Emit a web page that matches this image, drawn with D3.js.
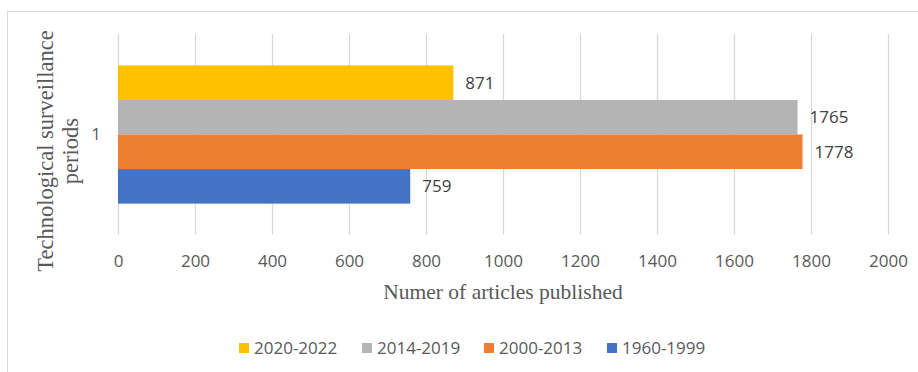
<!DOCTYPE html>
<html>
<head>
<meta charset="utf-8">
<script src="https://cdn.jsdelivr.net/npm/d3@7"></script>
<style>
  html, body { margin: 0; padding: 0; background: #fff; }
  svg { display: block; }
</style>
</head>
<body>
<svg id="chart" width="918" height="372"></svg>
<script>
// Articles published per technological surveillance period
const categories = ["1"];
const seriesNames = ["2020-2022", "2014-2019", "2000-2013", "1960-1999"];
const seriesValues = [871, 1765, 1778, 759];
const seriesColors = ["#FFC000", "#B4B4B4", "#ED7D31", "#4472C4"];
const xTicks = [0, 200, 400, 600, 800, 1000, 1200, 1400, 1600, 1800, 2000];

const svg = d3.select("#chart");
const W = 918, H = 372;
const plot = { left: 118, right: 888, top: 34, bottom: 235 };
const labelFont = "'Open Sans', 'Liberation Sans', sans-serif";
const titleFont = "'Liberation Serif', 'Times New Roman', serif";
const textColor = "#595959";

// outer chart frame
svg.append("rect")
  .attr("x", 7.5).attr("y", 11.5)
  .attr("width", W + 10).attr("height", H + 10)
  .attr("fill", "none").attr("stroke", "#d9d9d9").attr("stroke-width", 1);

const x = d3.scaleLinear().domain([0, 2000]).range([plot.left, plot.right]);

const yCat = d3.scaleBand().domain(categories)
  .range([plot.top, plot.bottom])
  .paddingInner(0).paddingOuter(0.227);

const ySer = d3.scaleBand().domain(seriesNames)
  .range([0, yCat.bandwidth()]).padding(0);

// vertical gridlines
const grid = d3.axisBottom(x).tickValues(xTicks)
  .tickSize(-(plot.bottom - plot.top)).tickFormat("");
svg.append("g")
  .attr("transform", `translate(0,${plot.bottom})`)
  .call(grid)
  .call(g => g.select(".domain").remove())
  .call(g => g.selectAll(".tick line").attr("stroke", "#d9d9d9").attr("stroke-width", 1.3));

// x tick labels
const xAxis = d3.axisBottom(x).tickValues(xTicks).tickSize(0).tickPadding(0)
  .tickFormat(d3.format("d"));
svg.append("g")
  .attr("transform", `translate(0,${plot.bottom + 20})`)
  .call(xAxis)
  .call(g => g.select(".domain").remove())
  .call(g => g.selectAll("text")
    .attr("dy", "0.71em")
    .attr("fill", textColor)
    .style("font-family", labelFont)
    .style("font-size", "17px"));

// category tick label
const yAxis = d3.axisLeft(yCat).tickSize(0).tickPadding(0);
svg.append("g")
  .attr("transform", `translate(${plot.left - 17},0)`)
  .call(yAxis)
  .call(g => g.select(".domain").remove())
  .call(g => g.selectAll("text")
    .attr("fill", textColor)
    .style("font-family", labelFont)
    .style("font-size", "17px"));

// bars
const rows = seriesNames.map((name, i) => ({
  cat: categories[0], name, value: seriesValues[i], color: seriesColors[i]
}));

const barG = svg.append("g");
barG.selectAll("rect")
  .data(rows)
  .join("rect")
  .attr("x", x(0))
  .attr("y", d => yCat(d.cat) + ySer(d.name))
  .attr("width", d => x(d.value) - x(0))
  .attr("height", ySer.bandwidth())
  .attr("fill", d => d.color);

// value labels
barG.selectAll("text")
  .data(rows)
  .join("text")
  .attr("x", d => x(d.value) + 12)
  .attr("y", d => yCat(d.cat) + ySer(d.name) + ySer.bandwidth() / 2)
  .attr("dy", "0.35em")
  .attr("fill", "#404040")
  .style("font-family", labelFont)
  .style("font-size", "17px")
  .text(d => d.value);

// x axis title
svg.append("text")
  .attr("x", 503)
  .attr("y", 299)
  .attr("text-anchor", "middle")
  .attr("fill", textColor)
  .style("font-family", titleFont)
  .style("font-size", "21.5px")
  .text("Numer of articles published");

// y axis title (two lines, rotated)
const yTitle = svg.append("text")
  .attr("transform", "translate(53,151) rotate(-90)")
  .attr("text-anchor", "middle")
  .attr("fill", textColor)
  .style("font-family", titleFont)
  .style("font-size", "22.5px");
yTitle.append("tspan").attr("x", 0).attr("y", 0).text("Technological surveillance");
yTitle.append("tspan").attr("x", 0).attr("y", 25).text("periods");

// legend
const legendX = [239, 362, 484, 607];
const legend = svg.append("g");
const items = legend.selectAll("g")
  .data(rows)
  .join("g")
  .attr("transform", (d, i) => `translate(${legendX[i]},343)`);
items.append("rect")
  .attr("width", 10).attr("height", 10)
  .attr("fill", d => d.color);
items.append("text")
  .attr("x", 15).attr("y", 5).attr("dy", "0.36em")
  .attr("fill", textColor)
  .style("font-family", labelFont)
  .style("font-size", "17px")
  .text(d => d.name);
</script>
</body>
</html>
